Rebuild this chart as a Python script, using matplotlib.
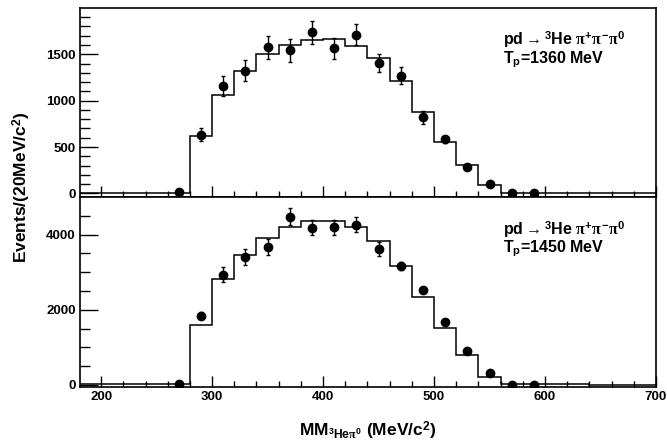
import matplotlib
matplotlib.use('Agg')
import matplotlib.pyplot as plt
import numpy as np

plt.rcParams['font.family'] = ['Liberation Sans', 'DejaVu Sans']
plt.rcParams['font.weight'] = 'bold'
plt.rcParams['mathtext.fontset'] = 'custom'
plt.rcParams['mathtext.rm'] = 'Liberation Sans:bold'
plt.rcParams['mathtext.bf'] = 'Liberation Sans:bold'
plt.rcParams['mathtext.it'] = 'Liberation Serif'

# histogram bin edges (20 MeV bins) and simulated contents
edges = np.arange(180, 701, 20)
hist_1360 = [5, 5, 5, 5, 5, 620, 1065, 1315, 1500, 1603, 1657, 1670, 1585,
             1459, 1214, 876, 558, 306, 90, 8, 8, 8, 8, 3, 3, 3]
hist_1450 = [15, 15, 15, 15, 15, 1590, 2813, 3456, 3902, 4196, 4357, 4357,
             4196, 3839, 3170, 2339, 1518, 786, 223, 15, 15, 15, 15, 10, 10, 10]

# measured points
x_pts = [270, 290, 310, 330, 350, 370, 390, 410, 430, 450, 470, 490, 510,
         530, 550, 570, 590]
y_1360 = [15, 630, 1163, 1322, 1574, 1542, 1736, 1567, 1711, 1405, 1271,
          822, 584, 288, 97, 5, 5]
e_1360 = [10, 70, 108, 113, 126, 125, 122, 113, 115, 100, 90, 72, 40, 25,
          15, 5, 5]
y_1450 = [30, 1848, 2938, 3411, 3661, 4482, 4179, 4196, 4259, 3616, 3170,
          2527, 1688, 893, 313, 10, 10]
e_1450 = [20, 100, 190, 214, 214, 223, 200, 200, 200, 180, 110, 90, 70,
          50, 30, 10, 10]

labels = [r'T$_\mathrm{p}$=1360 MeV', r'T$_\mathrm{p}$=1450 MeV']

fig = plt.figure(figsize=(6.67, 4.41), dpi=100)
ax1 = fig.add_axes([0.12, 0.553, 0.8635, 0.429])
ax2 = fig.add_axes([0.12, 0.1224, 0.8635, 0.4306])


def style(ax, ymaj, ymin):
    ax.set_xlim(181, 700)
    ax.set_xticks(np.arange(200, 701, 100))
    ax.set_xticks(np.arange(200, 701, 20), minor=True)
    ax.set_yticks(ymaj)
    ax.set_yticks(ymin, minor=True)
    ax.tick_params(which='both', direction='in', top=False, right=False,
                   labelsize=9.5, width=1, pad=3)
    ax.tick_params(axis='y', which='major', length=13)
    ax.tick_params(axis='y', which='minor', length=7)
    ax.tick_params(axis='x', which='major', length=8)
    ax.tick_params(axis='x', which='minor', length=4)
    for s in ax.spines.values():
        s.set_linewidth(1.2)
    for lab in ax.get_xticklabels() + ax.get_yticklabels():
        lab.set_fontweight('bold')


for ax, h, y, e, lab in [(ax1, hist_1360, y_1360, e_1360, labels[0]),
                         (ax2, hist_1450, y_1450, e_1450, labels[1])]:
    ax.stairs(h, edges, color='black', lw=1.1)
    ax.errorbar(x_pts, y, yerr=e, fmt='o', color='black', ms=6,
                elinewidth=1, capsize=1.5, capthick=1)
    ax.text(0.734, 0.803, r'pd$\rightarrow{}^3$He $\pi^{+}\pi^{-}\pi^{0}$',
            transform=ax.transAxes, fontsize=11.5, fontweight='bold',
            va='baseline')
    ax.text(0.734, 0.708, lab, transform=ax.transAxes, fontsize=11.5,
            fontweight='bold', va='baseline')

ax1.set_ylim(-40, 2000)
style(ax1, [0, 500, 1000, 1500], np.arange(0, 2000, 100))
ax1.tick_params(axis='x', labelbottom=False)

ax2.set_ylim(-55, 5000)
style(ax2, [0, 2000, 4000], np.arange(0, 5000, 500))

fig.text(0.033, 0.576, r'Events/(20MeV/c$^2$)', rotation=90, ha='center',
         va='center', fontsize=12.5, fontweight='bold')
ax2.set_xlabel(r'MM$_{^3\mathrm{He}\pi^0}$ (MeV/c$^2$)', fontsize=12.5,
               fontweight='bold', labelpad=12)

fig.savefig('out.png', dpi=100)
